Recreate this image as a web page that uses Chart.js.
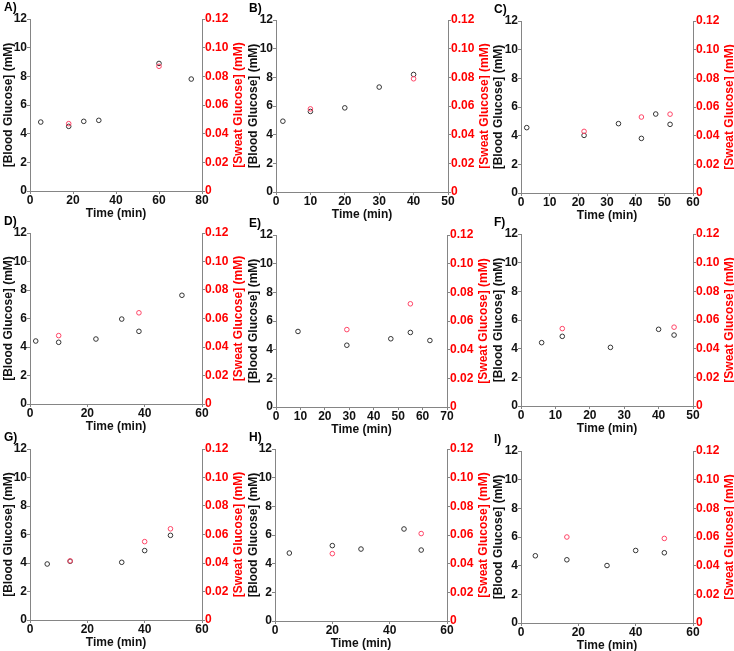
<!DOCTYPE html>
<html>
<head>
<meta charset="utf-8">
<script src="https://cdn.jsdelivr.net/npm/chart.js@4.4.1/dist/chart.umd.min.js"></script>
<style>
  html, body { margin: 0; padding: 0; background: #fff; overflow: hidden; }
  body { width: 734px; height: 651px; position: relative; }
  canvas { position: absolute; }
</style>
</head>
<body>
<script>
// Tick labels
const bloodTicks = [0, 2, 4, 6, 8, 10, 12];
const sweatTicks = [0, 0.02, 0.04, 0.06, 0.08, 0.10, 0.12];
const timeTicks80 = [0, 20, 40, 60, 80];
const timeTicks50 = [0, 10, 20, 30, 40, 50];
const timeTicks60by10 = [0, 10, 20, 30, 40, 50, 60];
const timeTicks60 = [0, 20, 40, 60];
const timeTicks70 = [0, 10, 20, 30, 40, 50, 60, 70];

// A)
const bloodTimeA = [5, 18, 25, 32, 60, 75];
const bloodA = [4.81, 4.51, 4.86, 4.93, 8.9, 7.81];
const sweatTimeA = [18, 60];
const sweatA = [0.047, 0.087];
// B)
const bloodTimeB = [2, 10, 20, 30, 40];
const bloodB = [4.94, 5.62, 5.87, 7.32, 8.2];
const sweatTimeB = [10, 40];
const sweatB = [0.058, 0.079];
// C)
const bloodTimeC = [2, 22, 34, 42, 47, 52];
const bloodC = [4.56, 4.02, 4.84, 3.81, 5.51, 4.79];
const sweatTimeC = [22, 42, 52];
const sweatC = [0.043, 0.053, 0.055];
// D)
const bloodTimeD = [2, 10, 23, 32, 38, 53];
const bloodD = [4.42, 4.33, 4.56, 5.96, 5.10, 7.63];
const sweatTimeD = [10, 38];
const sweatD = [0.048, 0.064];
// E)
const bloodTimeE = [9, 29, 47, 55, 63];
const bloodE = [5.27, 4.31, 4.76, 5.20, 4.64];
const sweatTimeE = [29, 55];
const sweatE = [0.054, 0.072];
// F)
const bloodTimeF = [6, 12, 26, 40, 44.5];
const bloodF = [4.42, 4.86, 4.09, 5.35, 4.95];
const sweatTimeF = [12, 44.5];
const sweatF = [0.054, 0.055];
// G)
const bloodTimeG = [6, 14, 32, 40, 49];
const bloodG = [3.93, 4.12, 4.05, 4.87, 5.94];
const sweatTimeG = [14, 40, 49];
const sweatG = [0.0415, 0.055, 0.064];
// H)
const bloodTimeH = [5, 20, 30, 45, 51];
const bloodH = [4.74, 5.26, 5.02, 6.42, 4.95];
const sweatTimeH = [20, 51];
const sweatH = [0.047, 0.061];
// I)
const bloodTimeI = [5, 16, 30, 40, 50];
const bloodI = [4.69, 4.41, 4.01, 5.06, 4.90];
const sweatTimeI = [16, 50];
const sweatI = [0.060, 0.059];

// paneles: posicion del canvas (x,y) y del area de trazado (l,r,t,b)
const panels = [
  { label: 'A)', x: 0,   y: 0,   l: 30,  r: 202, t: 19,  b: 191, xMax: 80, xTicks: timeTicks80,     bt: bloodTimeA, bv: bloodA, st: sweatTimeA, sv: sweatA },
  { label: 'B)', x: 245, y: 0,   l: 276, r: 448, t: 20,  b: 192, xMax: 50, xTicks: timeTicks50,     bt: bloodTimeB, bv: bloodB, st: sweatTimeB, sv: sweatB },
  { label: 'C)', x: 490, y: 0,   l: 521, r: 693, t: 21,  b: 193, xMax: 60, xTicks: timeTicks60by10, bt: bloodTimeC, bv: bloodC, st: sweatTimeC, sv: sweatC },
  { label: 'D)', x: 0,   y: 215, l: 30,  r: 202, t: 233, b: 404, xMax: 60, xTicks: timeTicks60,     bt: bloodTimeD, bv: bloodD, st: sweatTimeD, sv: sweatD },
  { label: 'E)', x: 245, y: 215, l: 276, r: 447, t: 235, b: 407, xMax: 70, xTicks: timeTicks70,     bt: bloodTimeE, bv: bloodE, st: sweatTimeE, sv: sweatE },
  { label: 'F)', x: 490, y: 215, l: 521, r: 693, t: 234, b: 406, xMax: 50, xTicks: timeTicks50,     bt: bloodTimeF, bv: bloodF, st: sweatTimeF, sv: sweatF },
  { label: 'G)', x: 0,   y: 430, l: 30,  r: 202, t: 449, b: 620, xMax: 60, xTicks: timeTicks60,     bt: bloodTimeG, bv: bloodG, st: sweatTimeG, sv: sweatG },
  { label: 'H)', x: 245, y: 430, l: 275, r: 447, t: 449, b: 621, xMax: 60, xTicks: timeTicks60,     bt: bloodTimeH, bv: bloodH, st: sweatTimeH, sv: sweatH },
  { label: 'I)', x: 490, y: 430, l: 521, r: 693, t: 451, b: 623, xMax: 60, xTicks: timeTicks60,     bt: bloodTimeI, bv: bloodI, st: sweatTimeI, sv: sweatI }
];

const FONT = "'Liberation Sans', Arial, Helvetica, sans-serif";
const AXIS_GRAY = '#858585';
const RED = '#ff0000';

Chart.defaults.font.family = FONT;
Chart.defaults.font.weight = 'bold';
Chart.defaults.font.size = 12;

// titulo rojo del eje derecho y letra del panel
const panelText = {
  id: 'panelText',
  afterDraw(chart, args, opts) {
    const ctx = chart.ctx;
    const area = chart.chartArea;
    ctx.save();
    ctx.font = 'bold 12px ' + FONT;
    ctx.fillStyle = '#000';
    ctx.textAlign = 'left';
    ctx.textBaseline = 'alphabetic';
    ctx.fillText(opts.label, 4, area.top - 8);
    ctx.translate(area.right + 37, (area.top + area.bottom) / 2);
    ctx.rotate(-Math.PI / 2);
    ctx.fillStyle = RED;
    ctx.textAlign = 'center';
    ctx.textBaseline = 'middle';
    ctx.fillText('[Sweat Glucose] (mM)', 0, 0);
    ctx.restore();
  }
};

function ticksFrom(arr) {
  return function (scale) {
    scale.ticks = arr.map(v => ({ value: v }));
  };
}

function toPoints(xs, ys) {
  return xs.map((x, i) => ({ x: x, y: ys[i] }));
}

panels.forEach(function (p) {
  const canvas = document.createElement('canvas');
  const w = 245;
  const h = p.b - p.y + 30;
  canvas.width = w;
  canvas.height = h;
  canvas.style.left = p.x + 'px';
  canvas.style.top = p.y + 'px';
  canvas.style.width = w + 'px';
  canvas.style.height = h + 'px';
  document.body.appendChild(canvas);

  const leftW = p.l - p.x;
  const rightW = p.x + w - p.r;

  new Chart(canvas.getContext('2d'), {
    type: 'scatter',
    data: {
      datasets: [
        {
          label: 'Sweat',
          data: toPoints(p.st, p.sv),
          yAxisID: 'y1',
          borderColor: '#ff4466',
          backgroundColor: 'rgba(0,0,0,0)',
          pointRadius: 2.3,
          borderWidth: 1
        },
        {
          label: 'Blood',
          data: toPoints(p.bt, p.bv),
          yAxisID: 'y',
          borderColor: '#333333',
          backgroundColor: 'rgba(0,0,0,0)',
          pointRadius: 2.3,
          borderWidth: 1
        }
      ]
    },
    options: {
      responsive: false,
      animation: false,
      devicePixelRatio: 1,
      layout: { padding: { top: p.t - p.y, left: 0, right: 0, bottom: 0 } },
      plugins: {
        legend: { display: false },
        tooltip: { enabled: false },
        panelText: { label: p.label }
      },
      scales: {
        x: {
          type: 'linear',
          position: 'bottom',
          min: 0,
          max: p.xMax,
          afterBuildTicks: ticksFrom(p.xTicks),
          afterFit: function (s) { s.height = 30; },
          border: { display: true, color: AXIS_GRAY, width: 1 },
          grid: { drawOnChartArea: false, drawTicks: true, tickLength: 3, color: AXIS_GRAY },
          ticks: { color: '#111', padding: -1, maxRotation: 0, autoSkip: false },
          title: { display: true, text: 'Time (min)', color: '#111', padding: 0 }
        },
        y: {
          type: 'linear',
          position: 'left',
          min: 0,
          max: 12,
          afterBuildTicks: ticksFrom(bloodTicks),
          afterFit: function (s) { s.width = leftW; },
          border: { display: true, color: AXIS_GRAY, width: 1 },
          grid: { drawOnChartArea: false, drawTicks: true, tickLength: 3, color: AXIS_GRAY },
          ticks: { color: '#111', padding: 0, autoSkip: false },
          title: { display: true, text: '[Blood Glucose] (mM)', color: '#111', padding: { top: 1, bottom: 0 } }
        },
        y1: {
          type: 'linear',
          position: 'right',
          min: 0,
          max: 0.12,
          afterBuildTicks: ticksFrom(sweatTicks),
          afterFit: function (s) { s.width = rightW; },
          border: { display: true, color: AXIS_GRAY, width: 1 },
          grid: { drawOnChartArea: false, drawTicks: true, tickLength: 3, color: AXIS_GRAY },
          ticks: {
            color: RED,
            padding: 0,
            autoSkip: false,
            callback: function (v) { return v === 0 ? '0' : v.toFixed(2); }
          }
        }
      }
    },
    plugins: [panelText]
  });
});
</script>
</body>
</html>
